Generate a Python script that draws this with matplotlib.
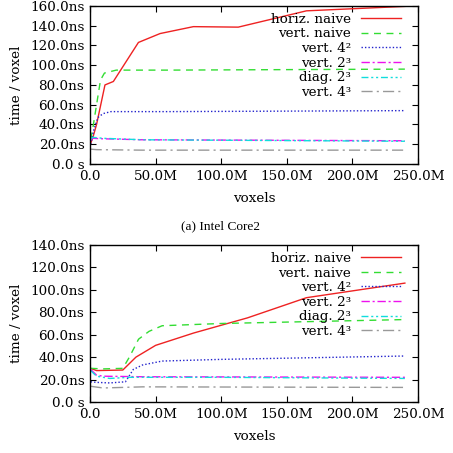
import numpy as np
import matplotlib
matplotlib.use("Agg")
import matplotlib.pyplot as plt
from matplotlib.ticker import FuncFormatter

plt.rcParams['font.family'] = 'DejaVu Serif'
plt.rcParams['mathtext.fontset'] = 'dejavuserif'

# ---- Intel Core2 (top) ----
top_hn_x = [0.5, 2, 5, 11.4, 17.8, 36.9, 53.4, 78.8, 113, 165, 240]
top_hn_y = [21, 26, 40, 80, 83.5, 123, 132, 139, 138.5, 155, 159.5]
top_vn_x = [0.5, 2, 5, 8, 11, 20, 60, 240]
top_vn_y = [25, 35, 60, 85, 92, 95, 95, 96]
top_v42_x = [0.5, 3, 6, 10, 16, 60, 240]
top_v42_y = [20, 35, 47, 51, 53, 53, 54]
top_v23_x = [0.5, 2, 10, 40, 240]
top_v23_y = [24, 26, 25.5, 24.5, 23.5]
top_d23_x = [0.5, 2, 10, 40, 240]
top_d23_y = [25, 27, 26, 24.5, 23]
top_v43_x = [0.5, 5, 40, 240]
top_v43_y = [15, 14.5, 14, 14]

# ---- second machine (bottom) ----
bot_hn_x = [0.5, 5, 25, 35, 50, 79, 120, 165, 240]
bot_hn_y = [30, 28, 28.5, 40, 50.5, 61.5, 75, 93, 106]
bot_vn_x = [0.5, 10, 25, 30, 37, 45, 55, 100, 240]
bot_vn_y = [30, 29.5, 30, 40, 56, 63, 68, 70, 73.5]
bot_v42_x = [0.5, 5, 15, 27, 33, 40, 55, 100, 240]
bot_v42_y = [18, 17.5, 17, 18, 29, 33, 36.5, 38, 41]
bot_v23_x = [0.5, 5, 10, 40, 240]
bot_v23_y = [29, 24, 23, 22.5, 22]
bot_d23_x = [0.5, 5, 15, 30, 100, 240]
bot_d23_y = [28, 23, 21, 22, 22, 21]
bot_v43_x = [0.5, 10, 40, 240]
bot_v43_y = [14, 12.5, 13.5, 13]

labels = ['horiz. naive', 'vert. naive', 'vert. 4²', 'vert. 2³',
          'diag. 2³', 'vert. 4³']
colors = ['#ee2222', '#33dd33', '#2222cc', '#ee11ee', '#11dddd', '#999999']
styles = ['-', (0, (5, 4)), (0, (1, 1.5)), (0, (6, 2, 1.5, 2)),
          (0, (5, 2, 1.5, 2, 1.5, 2)), (0, (8, 3, 1.5, 3))]

FS = 9.7

fig = plt.figure(figsize=(4.53, 4.53), dpi=100)


def yfmt(v, p):
    if v == 0:
        return '0.0 s'
    return '%.1fns' % v


def xfmt(v, p):
    if v == 0:
        return '0.0'
    return '%.1fM' % v


def draw(ax, data, ymax):
    for (x, y), lab, c, ls in zip(data, labels, colors, styles):
        ax.plot(x, y, color=c, linestyle=ls, linewidth=1.0, label=lab)
    ax.set_xlim(0, 250)
    ax.set_ylim(0, ymax)
    ax.set_xticks(np.arange(0, 251, 50))
    ax.set_yticks(np.arange(0, ymax + 1, 20))
    ax.xaxis.set_major_formatter(FuncFormatter(xfmt))
    ax.yaxis.set_major_formatter(FuncFormatter(yfmt))
    ax.tick_params(direction='in', top=True, right=True, labelsize=FS,
                   length=4, width=0.8, pad=4)
    for s in ax.spines.values():
        s.set_linewidth(1.0)
    ax.set_xlabel('voxels', fontsize=FS, labelpad=7)
    ax.set_ylabel('time / voxel', fontsize=FS, labelpad=5)
    ax.legend(loc='upper right', bbox_to_anchor=(0.965, 0.99), frameon=False,
              markerfirst=False, fontsize=FS, handlelength=3.0,
              handletextpad=0.7, labelspacing=0.12, borderaxespad=0.0)


ax1 = fig.add_axes([0.1987, 0.638, 0.724, 0.349])
draw(ax1, [(top_hn_x, top_hn_y), (top_vn_x, top_vn_y), (top_v42_x, top_v42_y),
           (top_v23_x, top_v23_y), (top_d23_x, top_d23_y), (top_v43_x, top_v43_y)], 160)

ax2 = fig.add_axes([0.1987, 0.1126, 0.724, 0.3466])
draw(ax2, [(bot_hn_x, bot_hn_y), (bot_vn_x, bot_vn_y), (bot_v42_x, bot_v42_y),
           (bot_v23_x, bot_v23_y), (bot_d23_x, bot_d23_y), (bot_v43_x, bot_v43_y)], 140)

fig.text(0.486, 1 - 226 / 453, '(a) Intel Core2', ha='center', va='center',
         fontsize=9.6, family='Liberation Serif')

fig.savefig('out.png', dpi=100)
